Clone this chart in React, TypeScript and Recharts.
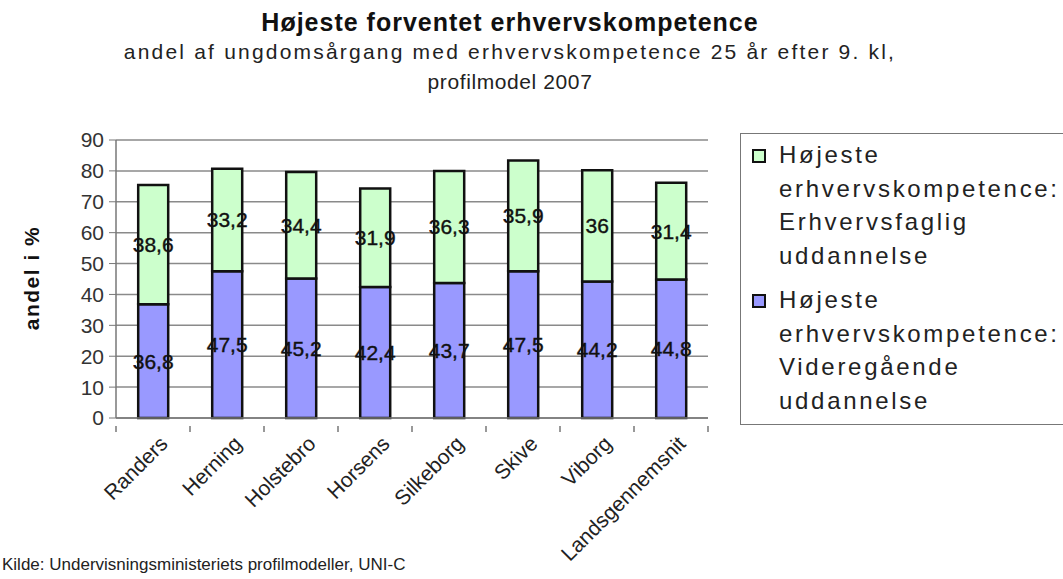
import { BarChart, Bar, XAxis, YAxis, CartesianGrid, LabelList } from "recharts";

const categories = ["Randers", "Herning", "Holstebro", "Horsens", "Silkeborg", "Skive", "Viborg", "Landsgennemsnit"];
const videregaaende = [36.8, 47.5, 45.2, 42.4, 43.7, 47.5, 44.2, 44.8];
const erhvervsfaglig = [38.6, 33.2, 34.4, 31.9, 36.3, 35.9, 36, 31.4];
const yTicks = [0, 10, 20, 30, 40, 50, 60, 70, 80, 90];

const seriesNames = {
  faglig: "Højeste erhvervskompetence: Erhvervsfaglig uddannelse",
  videre: "Højeste erhvervskompetence: Videregående uddannelse",
};

const data = categories.map((name, i) => ({
  name,
  videre: videregaaende[i],
  faglig: erhvervsfaglig[i],
}));

const FONT = "'Liberation Sans', Arial, sans-serif";
const GREEN = "#ccffcc";
const BLUE = "#9999ff";

const fmt = (v: any) => String(v).replace(".", ",");

function XTick(props: any) {
  const { x, y, payload } = props;
  const half = 37;
  return (
    <g>
      <line x1={x - half} x2={x - half} y1={y} y2={y + 6} stroke="#777" strokeWidth={1.5} />
      {payload.index === categories.length - 1 && (
        <line x1={x + half} x2={x + half} y1={y} y2={y + 6} stroke="#777" strokeWidth={1.5} />
      )}
      <text
        x={x + 16}
        y={y + 19}
        textAnchor="end"
        transform={`rotate(-45 ${x + 16} ${y + 19})`}
        fontSize={21}
        fontFamily={FONT}
        fill="#222"
      >
        {payload.value}
      </text>
    </g>
  );
}

function LegendBox() {
  const items = [
    { color: GREEN, name: seriesNames.faglig, lines: ["Højeste", "erhvervskompetence:", "Erhvervsfaglig", "uddannelse"] },
    { color: BLUE, name: seriesNames.videre, lines: ["Højeste", "erhvervskompetence:", "Videregående", "uddannelse"] },
  ];
  return (
    <div
      style={{
        position: "absolute",
        left: 740,
        top: 133,
        border: "1px solid #777",
        width: 340,
        height: 292,
        boxSizing: "border-box",
        padding: "4px 0 0 11px",
        fontFamily: FONT,
        fontSize: 24,
        color: "#222",
        background: "#fff",
      }}
    >
      {items.map((it, i) => (
        <div key={i} title={it.name} style={{ display: "flex", marginBottom: i === 0 ? 11 : 0 }}>
          <div
            style={{
              width: 10,
              height: 10,
              border: "2px solid #111",
              background: it.color,
              marginTop: 11,
              marginRight: 13,
              flexShrink: 0,
            }}
          />
          <div style={{ lineHeight: "33.5px", letterSpacing: 2.7 }}>
            {it.lines.map((l, j) => (
              <div key={j}>{l}</div>
            ))}
          </div>
        </div>
      ))}
    </div>
  );
}

export default function App() {
  return (
    <div style={{ position: "absolute", left: 0, top: 0, width: 1063, height: 579, background: "#fff", overflow: "hidden" }}>
      <div style={{ position: "absolute", left: 0, width: 1020, top: 8, textAlign: "center", fontFamily: FONT, fontWeight: "bold", fontSize: 25, letterSpacing: 1, color: "#111" }}>
        Højeste forventet erhvervskompetence
      </div>
      <div style={{ position: "absolute", left: 0, width: 1020, top: 37, textAlign: "center", fontFamily: FONT, fontSize: 21, letterSpacing: 2.2, lineHeight: "30px", color: "#222" }}>
        andel af ungdomsårgang med erhvervskompetence 25 år efter 9. kl,
      </div>
      <div style={{ position: "absolute", left: 0, width: 1020, top: 67, textAlign: "center", fontFamily: FONT, fontSize: 21, letterSpacing: 0.6, lineHeight: "30px", color: "#222" }}>
        profilmodel 2007
      </div>
      <div
        style={{
          position: "absolute",
          left: 32,
          top: 278,
          transform: "translate(-50%, -50%) rotate(-90deg)",
          fontFamily: FONT,
          fontWeight: "bold",
          fontSize: 21,
          letterSpacing: 1.5,
          whiteSpace: "nowrap",
          color: "#111",
        }}
      >
        andel i %
      </div>
      <div style={{ position: "absolute", left: 2, top: 555, fontFamily: FONT, fontSize: 17, color: "#222", whiteSpace: "nowrap" }}>
        Kilde: Undervisningsministeriets profilmodeller, UNI-C
      </div>
      <div style={{ position: "absolute", left: 0, top: 0 }}>
        <BarChart
          width={1063}
          height={579}
          data={data}
          margin={{ top: 140, right: 355, left: 66, bottom: 71 }}
          barCategoryGap="30%"
        >
          <CartesianGrid vertical={false} stroke="#8a8a8a" strokeWidth={1.5} />
          <XAxis
            dataKey="name"
            height={90}
            interval={0}
            tick={<XTick />}
            tickLine={false}
            axisLine={{ stroke: "#777", strokeWidth: 1.5 }}
          />
          <YAxis
            domain={[0, 90]}
            ticks={yTicks}
            width={50}
            tickSize={7}
            tickLine={{ stroke: "#777" }}
            axisLine={{ stroke: "#777", strokeWidth: 1.5 }}
            tick={{ fontSize: 21, fill: "#333", fontFamily: FONT, dx: -3 }}
          />
          <YAxis
            yAxisId="right"
            orientation="right"
            domain={[0, 90]}
            width={0}
            tick={false}
            tickLine={false}
            axisLine={{ stroke: "#8a8a8a", strokeWidth: 1.5 }}
          />
          <Bar dataKey="videre" name={seriesNames.videre} stackId="a" fill={BLUE} stroke="#111" strokeWidth={2.5} isAnimationActive={false}>
            <LabelList dataKey="videre" position="center" formatter={fmt} fontSize={21} fontFamily={FONT} fill="#111" stroke="#111" strokeWidth={0.4} />
          </Bar>
          <Bar dataKey="faglig" name={seriesNames.faglig} stackId="a" fill={GREEN} stroke="#111" strokeWidth={2.5} isAnimationActive={false}>
            <LabelList dataKey="faglig" position="center" formatter={fmt} fontSize={21} fontFamily={FONT} fill="#111" stroke="#111" strokeWidth={0.4} />
          </Bar>
        </BarChart>
      </div>
      <LegendBox />
    </div>
  );
}
